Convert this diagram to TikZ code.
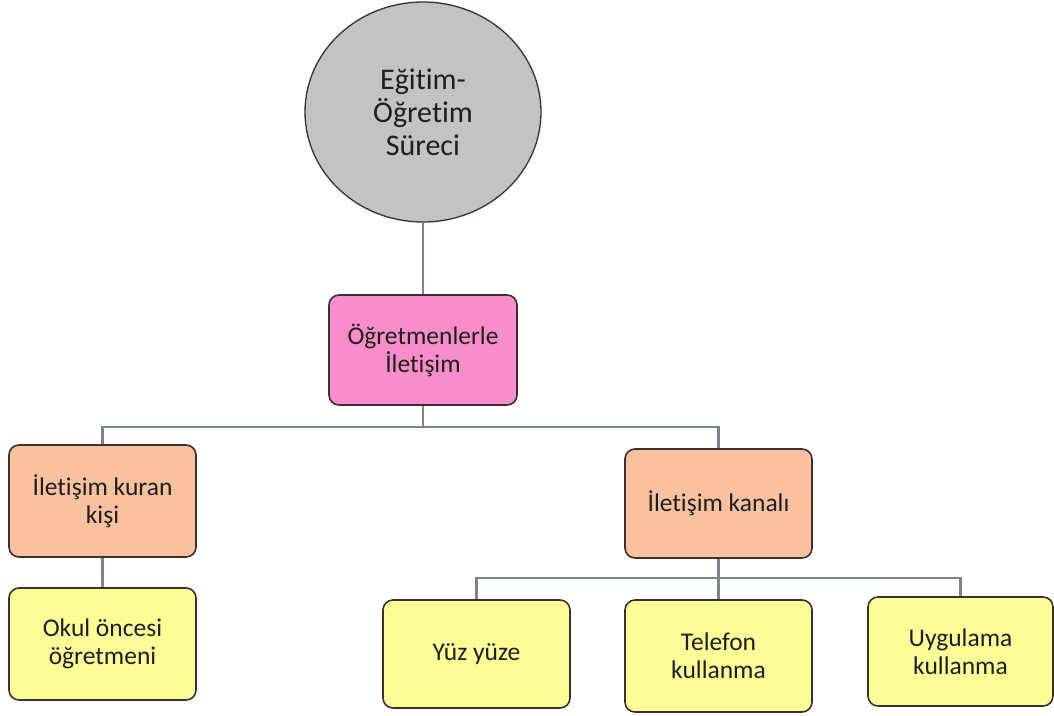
\documentclass[tikz,border=0pt]{standalone}
\usepackage{fontspec}
\setmainfont{Carlito}[Ligatures=NoCommon]
\usetikzlibrary{shapes.geometric}
\definecolor{circfill}{HTML}{C3C3C3}
\definecolor{pinkfill}{HTML}{F98DCA}
\definecolor{peachfill}{HTML}{F9C19D}
\definecolor{yelfill}{HTML}{FDFD98}
\definecolor{edge}{HTML}{3B2F2F}
\definecolor{conn}{HTML}{7A868A}
\definecolor{txt}{HTML}{1E1E1E}
\tikzset{
  boxnode/.style={draw=edge, line width=1.6pt, rounded corners=10pt, align=center,
    inner sep=2pt, text=txt, font=\fontsize{25.5}{28}\selectfont},
  conline/.style={draw=conn, line width=2.2pt},
}
\begin{document}
\begin{tikzpicture}[x=1pt,y=-1pt]
\useasboundingbox (0,0) rectangle (1054,715);
\node[ellipse, draw=edge, line width=1.3pt, fill=circfill, minimum width=236pt, minimum height=220pt,
  inner sep=0pt, align=center, text=txt, font=\fontsize{30}{33}\selectfont] (c) at (423,112)
  {Eğitim-\\Öğretim\\Süreci};
\node[boxnode, fill=pinkfill, minimum width=188pt, minimum height=110pt] (pk) at (423,350)
  {Öğretmenlerle\\İletişim};
\node[boxnode, fill=peachfill, minimum width=187pt, minimum height=112pt] (lo) at (102.5,501)
  {İletişim kuran\\kişi};
\node[boxnode, fill=yelfill, minimum width=187pt, minimum height=112pt] (ok) at (102.5,644)
  {Okul öncesi\\öğretmeni};
\node[boxnode, fill=peachfill, minimum width=187pt, minimum height=109pt] (ro) at (718.5,503.5)
  {İletişim kanalı};
\node[boxnode, fill=yelfill, minimum width=187pt, minimum height=108pt] (yy) at (476.5,654)
  {Yüz yüze};
\node[boxnode, fill=yelfill, minimum width=187pt, minimum height=112pt] (tf) at (718.5,656)
  {Telefon\\kullanma};
\node[boxnode, fill=yelfill, minimum width=185pt, minimum height=109pt] (ug) at (960.5,651.5)
  {Uygulama\\kullanma};
\coordinate (j1) at (423,427);
\coordinate (j2) at (718.5,578);
\path[conline] (c.south) -- (pk.north);
\path[conline] (pk.south) -- (j1);
\path[conline] (lo.north) |- (j1) -| (ro.north);
\path[conline] (lo.south) -- (ok.north);
\path[conline] (ro.south) -- (tf.north);
\path[conline] (yy.north) |- (j2) -| (ug.north);
\end{tikzpicture}
\end{document}
